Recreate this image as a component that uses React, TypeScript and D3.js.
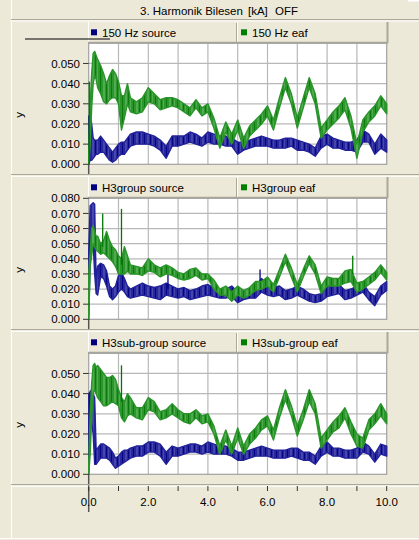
import React from 'react'
import * as d3 from 'd3'

// sample times (s); finer in the first second where the start-up transients are
const time = [0, 0.05, 0.1, 0.15, 0.2, 0.25, 0.3,
  0.4, 0.5, 0.6, 0.7, 0.8, 0.9, 1.0, 1.1, 1.2, 1.3, 1.4,
  1.6, 1.8, 2.0, 2.2, 2.4, 2.6, 2.8, 3.0, 3.2, 3.4, 3.6, 3.8, 4.0, 4.2, 4.4, 4.6, 4.8, 5.0, 5.2, 5.4, 5.6, 5.8,
  6.0, 6.2, 6.4, 6.6, 6.8, 7.0, 7.2, 7.4, 7.6, 7.8, 8.0, 8.2, 8.4, 8.6, 8.8, 9.0, 9.2, 9.4, 9.6, 9.8, 10.0]

// band envelopes (low / high) of each noisy trace, in thousandths of kA
const hz150SourceLo = [0, 2, 2, 3, 4, 5, 5,
  6, 6, 4, 2, 1, 2, 4, 5, 5, 7, 9,
  10, 10, 10, 9, 7, 3, 9, 9, 10, 11, 10, 9, 11, 10, 10, 9, 9, 5, 7, 8, 9, 9,
  9, 8, 8, 8, 9, 7, 7, 6, 4, 8, 10, 8, 8, 7, 7, 6, 11, 11, 5, 8, 6]
const hz150SourceHi = [24, 24, 20, 13, 12, 12, 12,
  14, 12, 10, 8, 6, 8, 10, 11, 11, 13, 15,
  16, 16, 15, 14, 12, 9, 14, 14, 14, 16, 15, 13, 16, 15, 14, 14, 13, 11, 11, 12, 13, 14,
  13, 12, 12, 13, 13, 12, 11, 10, 8, 14, 15, 13, 12, 11, 11, 12, 17, 15, 10, 15, 12]
const hz150EafLo = [0, 10, 28, 40, 44, 42, 38,
  35, 31, 30, 32, 33, 33, 30, 17, 23, 30, 26,
  25, 26, 31, 30, 27, 28, 29, 28, 26, 24, 28, 24, 26, 18, 8, 16, 10, 17, 8, 14, 17, 20,
  24, 17, 28, 38, 30, 18, 28, 38, 30, 13, 17, 20, 23, 27, 18, 3, 16, 21, 24, 29, 25]
const hz150EafHi = [5, 30, 45, 55, 56, 54, 52,
  49, 45, 40, 44, 47, 45, 41, 34, 34, 40, 33,
  31, 33, 38, 35, 32, 33, 33, 32, 30, 28, 32, 28, 30, 23, 13, 21, 15, 22, 13, 19, 22, 25,
  29, 22, 33, 43, 35, 23, 33, 43, 35, 18, 22, 26, 29, 33, 24, 10, 22, 26, 29, 34, 30]

const groupSourceLo = [0, 40, 45, 50, 30, 17, 16,
  28, 27, 22, 15, 13, 15, 18, 20, 18, 15, 14,
  15, 16, 15, 14, 13, 16, 15, 14, 15, 13, 14, 15, 16, 15, 14, 14, 15, 11, 13, 14, 14, 18,
  16, 15, 16, 13, 14, 16, 14, 12, 11, 12, 15, 16, 17, 13, 14, 16, 18, 13, 9, 16, 19]
const groupSourceHi = [45, 75, 76, 77, 76, 25, 35,
  37, 36, 32, 22, 20, 22, 29, 31, 27, 22, 20,
  22, 24, 22, 21, 22, 24, 22, 20, 21, 19, 20, 22, 23, 21, 19, 20, 22, 18, 19, 20, 21, 27,
  23, 21, 22, 19, 20, 22, 20, 17, 16, 17, 22, 23, 23, 19, 20, 22, 24, 18, 15, 22, 25]
const groupEafLo = [0, 35, 42, 50, 48, 46, 45,
  43, 44, 42, 40, 38, 35, 30, 30, 30, 32, 30,
  30, 29, 32, 31, 28, 30, 29, 27, 26, 27, 29, 26, 27, 20, 16, 16, 12, 16, 14, 16, 19, 20,
  22, 18, 28, 38, 28, 18, 28, 37, 30, 17, 22, 22, 22, 24, 25, 18, 20, 23, 26, 31, 26]
const groupEafHi = [30, 45, 60, 62, 58, 55, 55,
  50, 52, 58, 52, 48, 46, 42, 40, 48, 42, 36,
  35, 34, 40, 36, 34, 36, 34, 31, 30, 33, 34, 30, 30, 26, 20, 22, 18, 22, 19, 21, 25, 25,
  28, 23, 33, 43, 34, 23, 33, 42, 36, 22, 28, 27, 27, 32, 33, 24, 25, 28, 31, 36, 31]

const subSourceLo = [0, 25, 25, 20, 5, 5, 6,
  8, 8, 8, 7, 5, 3, 4, 5, 6, 7, 8,
  9, 9, 11, 11, 9, 5, 9, 9, 10, 11, 11, 10, 11, 10, 10, 10, 9, 7, 7, 8, 9, 9,
  9, 8, 8, 8, 9, 8, 7, 7, 5, 9, 11, 9, 9, 8, 8, 8, 11, 10, 6, 10, 9]
const subSourceHi = [40, 41, 42, 40, 38, 12, 13,
  15, 15, 14, 13, 11, 8, 9, 11, 12, 12, 13,
  14, 14, 16, 16, 15, 11, 14, 13, 14, 15, 15, 14, 16, 15, 14, 14, 13, 11, 11, 12, 13, 14,
  13, 12, 12, 12, 13, 13, 11, 11, 9, 14, 16, 13, 13, 12, 12, 13, 16, 14, 10, 15, 14]
const subEafLo = [0, 10, 28, 40, 42, 40, 38,
  36, 34, 34, 35, 36, 35, 34, 28, 26, 29, 30,
  28, 27, 32, 31, 27, 28, 30, 28, 26, 25, 28, 25, 26, 20, 10, 17, 10, 18, 10, 15, 18, 22,
  24, 17, 28, 37, 29, 19, 27, 36, 30, 13, 17, 21, 23, 28, 20, 14, 13, 22, 25, 29, 25]
const subEafHi = [5, 30, 45, 54, 55, 53, 54,
  52, 50, 48, 48, 49, 47, 42, 38, 36, 40, 38,
  33, 33, 38, 36, 31, 32, 35, 32, 30, 30, 32, 29, 30, 24, 14, 22, 14, 23, 14, 20, 23, 27,
  29, 22, 33, 42, 34, 24, 32, 42, 35, 18, 22, 26, 29, 33, 26, 20, 18, 27, 30, 35, 30]

// single-sample spikes: [time, from, to] (thousandths of kA)
const hz150EafSpikes = [[0.02, 0, 41]]
const groupSourceSpikes = [[2.66, 20, 30], [5.75, 22, 33]]
const groupEafSpikes = [[0.47, 48, 70], [1.1, 36, 73], [8.86, 30, 42]]
const subEafSpikes = [[1.1, 36, 54]]

const seriesNames = [
  ['150 Hz source', '150 Hz eaf'],
  ['H3group source', 'H3group eaf'],
  ['H3sub-group source', 'H3sub-group eaf'],
]
const yTicksSmall = [0, 0.01, 0.02, 0.03, 0.04, 0.05]
const yTicksLarge = [0, 0.01, 0.02, 0.03, 0.04, 0.05, 0.06, 0.07, 0.08]
const xTicks = [0, 2, 4, 6, 8, 10]
const xMinorTicks = [1, 3, 5, 7, 9]

const panels = [
  { names: seriesNames[0], yMax: 0.06, ticks: yTicksSmall, src: [hz150SourceLo, hz150SourceHi], eaf: [hz150EafLo, hz150EafHi], srcSpikes: [], eafSpikes: hz150EafSpikes },
  { names: seriesNames[1], yMax: 0.08, ticks: yTicksLarge, src: [groupSourceLo, groupSourceHi], eaf: [groupEafLo, groupEafHi], srcSpikes: groupSourceSpikes, eafSpikes: groupEafSpikes },
  { names: seriesNames[2], yMax: 0.06, ticks: yTicksSmall, src: [subSourceLo, subSourceHi], eaf: [subEafLo, subEafHi], srcSpikes: [], eafSpikes: subEafSpikes },
]

const W = 419
const H = 540
const BG = '#ECE9D8'
const EDGE = '#ACA899'
const FONT = '"Liberation Sans", Arial, sans-serif'
const BLUE = '#000080'
const GREEN = '#007800'

const x = d3.scaleLinear().domain([0, 10]).range([88.7, 386.7])
const fmtY = d3.format('.3f')
const fmtX = d3.format('.1f')

// vertical streaks so the bands read like dense noisy traces
function Texture({ id, base, dark, light }: { id: string; base: string; dark: string; light: string }) {
  return (
    <pattern id={id} width={11} height={4} patternUnits="userSpaceOnUse">
      <rect width={11} height={4} fill={base} />
      <rect x={1} width={1} height={4} fill={dark} />
      <rect x={4} width={2} height={4} fill={light} />
      <rect x={7} width={1} height={4} fill={dark} />
      <rect x={9} width={1} height={4} fill={light} />
    </pattern>
  )
}

function Panel({ p, i }: { p: any; i: number }) {
  const legendTop = 22 + 155 * i
  const top = legendTop + 21.3
  const bottom = top + 121
  const y = d3.scaleLinear().domain([0, p.yMax]).range([bottom, top])

  const band = (lo: number[], hi: number[]) =>
    d3.area<number>()
      .x(t => x(t))
      .y0((_, k) => y(lo[k] / 1000))
      .y1((_, k) => y(hi[k] / 1000))(time) as string

  const gridY = d3.range(1, Math.round(p.yMax / 0.01)).map(k => k * 0.01)
  const gridX = d3.range(1, 10)
  const axisEnd = i === 2 ? 512 : bottom + 10

  return (
    <g>
      {/* legend header */}
      <rect x={88} y={legendTop} width={299} height={21} fill={BG} />
      <line x1={88.5} x2={88.5} y1={legendTop} y2={top} stroke="#fff" />
      <line x1={237.5} x2={237.5} y1={legendTop} y2={top} stroke="#fff" />
      <line x1={236.5} x2={236.5} y1={legendTop + 1} y2={top} stroke={EDGE} />
      <line x1={88} x2={388} y1={legendTop + 20.5} y2={legendTop + 20.5} stroke={EDGE} strokeWidth={1.5} />
      <line x1={387.5} x2={387.5} y1={legendTop} y2={top} stroke={EDGE} strokeWidth={2} />
      {[0, 1].map(j => (
        <g key={j}>
          <rect x={j ? 241 : 91} y={legendTop + 7.3} width={6} height={6} fill={j ? '#008000' : BLUE} />
          <text x={j ? 252 : 102} y={legendTop + 15} fontSize={11.5} fontFamily={FONT} fill="#000">{p.names[j]}</text>
        </g>
      ))}

      {/* plot area */}
      <rect x={x(0)} y={top} width={x(10) - x(0)} height={bottom - top} fill="#fff" />
      {gridY.map(v => (
        <line key={v} x1={x(0)} x2={x(10)} y1={y(v)} y2={y(v)} stroke="#b8b8b8" strokeWidth={1.2} />
      ))}
      {gridX.map(t => (
        <line key={t} x1={x(t)} x2={x(t)} y1={top} y2={bottom} stroke="#b8b8b8" strokeWidth={1.2} />
      ))}
      <rect x={x(0)} y={top} width={x(10) - x(0)} height={bottom - top} fill="none" stroke="#a0a0a0" strokeWidth={1.2} />

      {/* traces */}
      <path d={band(p.src[0], p.src[1])} fill="url(#texBlue)" stroke="#22229a" strokeWidth={1.4} strokeLinejoin="round" />
      {p.srcSpikes.map((s: number[], k: number) => (
        <line key={k} x1={x(s[0])} x2={x(s[0])} y1={y(s[1] / 1000)} y2={y(s[2] / 1000)} stroke={BLUE} strokeWidth={1.3} />
      ))}
      <path d={band(p.eaf[0], p.eaf[1])} fill="url(#texGreen)" stroke="#2a942a" strokeWidth={1.4} strokeLinejoin="round" />
      {p.eafSpikes.map((s: number[], k: number) => (
        <line key={k} x1={x(s[0])} x2={x(s[0])} y1={y(s[1] / 1000)} y2={y(s[2] / 1000)} stroke={GREEN} strokeWidth={1.3} />
      ))}

      {/* y axis */}
      <line x1={x(0)} x2={x(0)} y1={bottom} y2={axisEnd} stroke="#555" strokeWidth={1.5} />
      {p.ticks.map((v: number) => (
        <g key={v}>
          <line x1={83} x2={x(0)} y1={y(v)} y2={y(v)} stroke="#333" />
          <text x={80} y={y(v)} dy="0.36em" textAnchor="end" fontSize={11.5} fontFamily={FONT} fill="#000">{fmtY(v)}</text>
        </g>
      ))}
      <text transform={`translate(23,${(top + bottom) / 2 + 11}) rotate(-90)`} textAnchor="middle" fontSize={11.5} fontFamily={FONT} fill="#000">y</text>

      {/* panel separator */}
      <line x1={11} x2={W} y1={bottom + 10.2} y2={bottom + 10.2} stroke={EDGE} strokeWidth={1.2} />
      <line x1={11} x2={W} y1={bottom + 12} y2={bottom + 12} stroke="#fff" />
    </g>
  )
}

export default function App() {
  return (
    <svg width={W} height={H} style={{ position: 'absolute', left: 0, top: 0, display: 'block' }}>
      <defs>
        <Texture id="texBlue" base="#28289c" dark="#050585" light="#4646ac" />
        <Texture id="texGreen" base="#2d962d" dark="#0b7b0b" light="#50ac50" />
      </defs>
      <rect width={W} height={H} fill={BG} />
      <line x1={11.5} x2={11.5} y1={0} y2={H - 2} stroke="#fff" />

      {/* title bar */}
      <line x1={11} x2={W} y1={19.5} y2={19.5} stroke={EDGE} strokeWidth={1.2} />
      <line x1={11} x2={W} y1={21} y2={21} stroke="#fff" />
      <rect x={408} y={0} width={11} height={1.5} fill="#fff" />
      <text x={140} y={15} fontSize={11.5} fontFamily={FONT} fill="#000">3. Harmonik Bilesen</text>
      <text x={248} y={15} fontSize={11.5} fontFamily={FONT} fill="#000">[kA]</text>
      <text x={275} y={15} fontSize={11.5} fontFamily={FONT} fill="#000">OFF</text>

      {panels.map((p, i) => <Panel key={i} p={p} i={i} />)}

      {/* stray rule above the first y axis */}
      <line x1={25} x2={110} y1={39} y2={39} stroke="#000" strokeWidth={1.2} />

      {/* shared x axis */}
      {xTicks.concat(xMinorTicks).map(t => (
        <line key={t} x1={x(t)} x2={x(t)} y1={486} y2={491} stroke="#333" />
      ))}
      {xTicks.map(t => (
        <text key={t} x={x(t)} y={506} textAnchor="middle" fontSize={11.5} fontFamily={FONT} fill="#000">{fmtX(t)}</text>
      ))}
      <line x1={0} x2={W} y1={538.5} y2={538.5} stroke="#fff" />
    </svg>
  )
}
